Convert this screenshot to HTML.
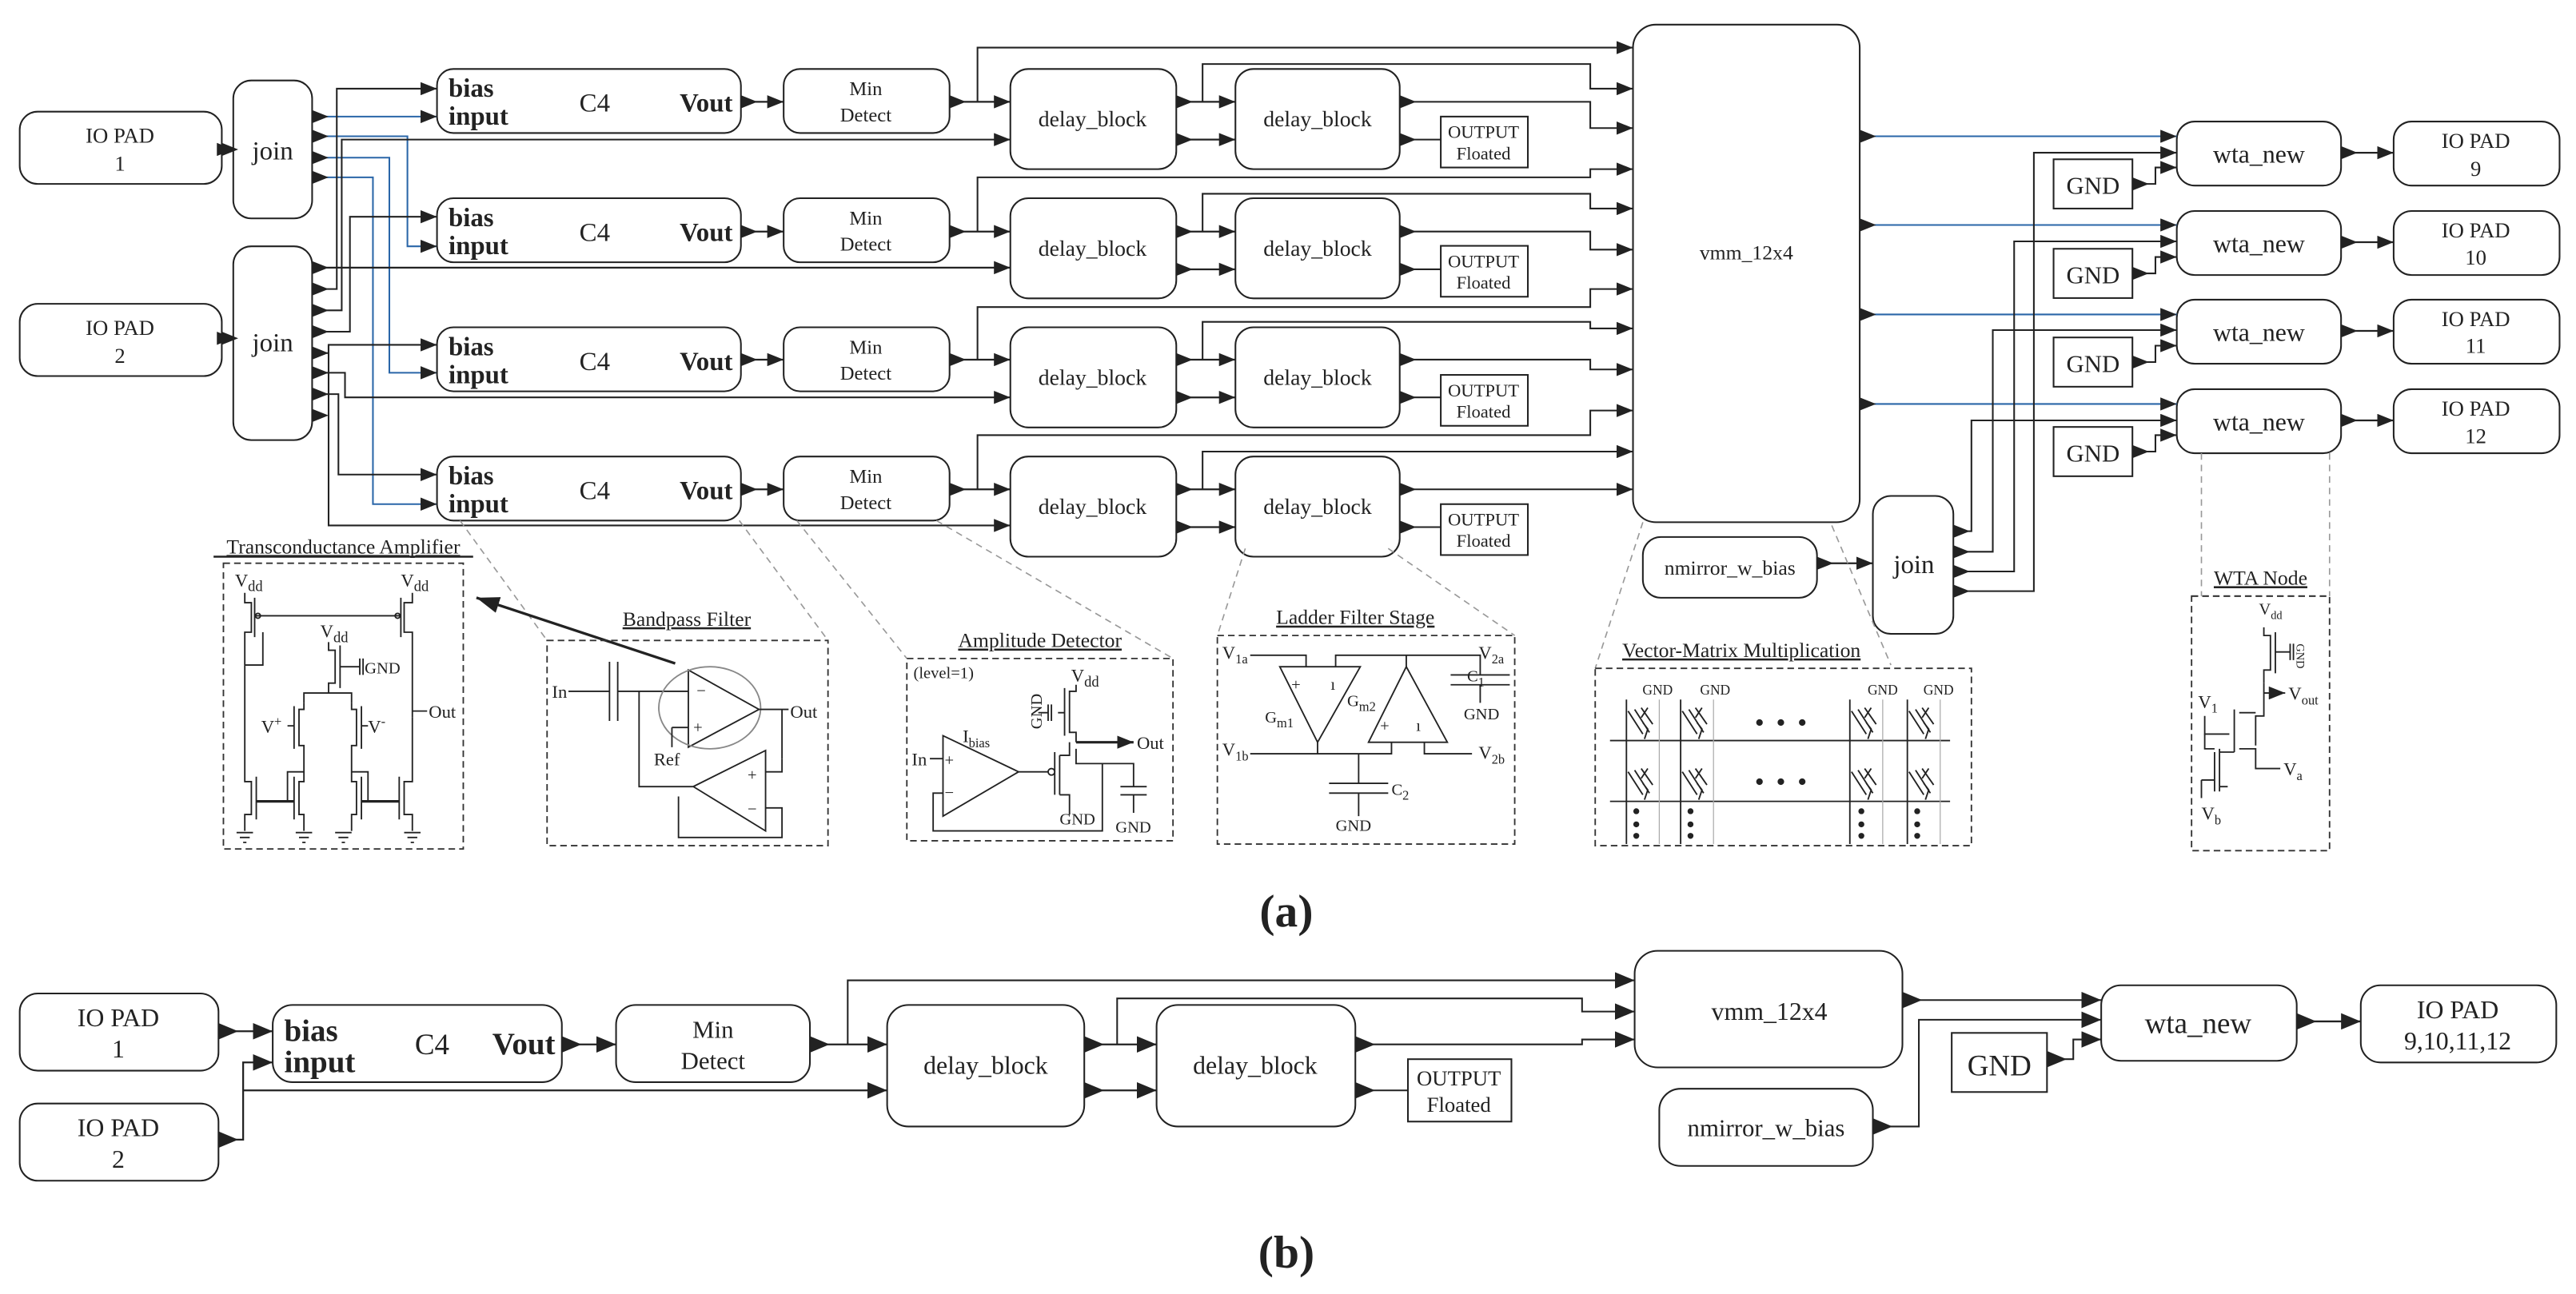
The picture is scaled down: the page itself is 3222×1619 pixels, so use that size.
<!DOCTYPE html>
<html><head><meta charset="utf-8"><style>
html,body{margin:0;padding:0;background:#fff;}
svg{display:block;}
text{font-family:"Liberation Serif",serif;fill:#222;}
.b{fill:none;stroke:#222;stroke-width:1;}
.w{fill:none;stroke:#222;stroke-width:1.1;}
.bl{fill:none;stroke:#2a66a8;stroke-width:1;}
.d{fill:none;stroke:#999;stroke-width:0.8;stroke-dasharray:4,3;}
.db{fill:none;stroke:#333;stroke-width:0.9;stroke-dasharray:4,2.5;}
.c{fill:none;stroke:#222;stroke-width:0.9;}
.g{fill:none;stroke:#aaa;stroke-width:0.6;}
</style></head><body>
<svg width="3222" height="1619" viewBox="0 0 1568 788" preserveAspectRatio="none" xmlns="http://www.w3.org/2000/svg">
<defs>
<marker id="a" markerUnits="userSpaceOnUse" markerWidth="10" markerHeight="8" refX="10" refY="4" orient="auto"><path d="M0,0L10,4L0,8z" fill="#222"/></marker>
<marker id="s" markerUnits="userSpaceOnUse" markerWidth="10" markerHeight="8" refX="0" refY="4" orient="auto"><path d="M0,0L10,4L0,8z" fill="#222"/></marker>
<marker id="A" markerUnits="userSpaceOnUse" markerWidth="12" markerHeight="10" refX="12" refY="5" orient="auto"><path d="M0,0L12,5L0,10z" fill="#222"/></marker>
<marker id="S" markerUnits="userSpaceOnUse" markerWidth="12" markerHeight="10" refX="0" refY="5" orient="auto"><path d="M0,0L12,5L0,10z" fill="#222"/></marker>
<marker id="k" markerUnits="userSpaceOnUse" markerWidth="14" markerHeight="10" refX="14" refY="5" orient="auto"><path d="M0,0L14,5L0,10z" fill="#222"/></marker>
</defs>

<!-- ============ PART A ============ -->
<!-- IO pads -->
<rect x="12" y="68" width="123" height="44" rx="11" class="b"/>
<text x="73" y="87" font-size="13" text-anchor="middle">IO PAD</text><text x="73" y="104" font-size="13" text-anchor="middle">1</text>
<rect x="12" y="185" width="123" height="44" rx="11" class="b"/>
<text x="73" y="204" font-size="13" text-anchor="middle">IO PAD</text><text x="73" y="221" font-size="13" text-anchor="middle">2</text>
<path d="M135,91H142" class="w" marker-start="url(#s)" marker-end="url(#a)"/>
<path d="M135,206H142" class="w" marker-start="url(#s)" marker-end="url(#a)"/>
<!-- joins -->
<rect x="142" y="49" width="48" height="84" rx="11" class="b"/>
<text x="166" y="97" font-size="16" text-anchor="middle">join</text>
<rect x="142" y="150" width="48" height="118" rx="11" class="b"/>
<text x="166" y="214" font-size="16" text-anchor="middle">join</text>

<!-- join1 output markers and blue lines -->
<g marker-start="url(#s)">
<path d="M190,71H266" class="bl" marker-end="url(#a)"/>
<path d="M190,83H248V150H266" class="bl" marker-end="url(#a)"/>
<path d="M190,96H237V227H266" class="bl" marker-end="url(#a)"/>
<path d="M190,108H227V307H266" class="bl" marker-end="url(#a)"/>
</g>
<!-- join2 outputs -->
<g marker-start="url(#s)">
<path d="M190,163H615" class="w" marker-end="url(#a)"/>
<path d="M190,176H205V54H266" class="b" marker-end="url(#a)"/>
<path d="M190,189H208V85H615" class="b" marker-end="url(#a)"/>
<path d="M190,202H213V132H266" class="b" marker-end="url(#a)"/>
<path d="M190,215H200V210H266" class="b" marker-end="url(#a)"/>
<path d="M190,227H210V242H615" class="b" marker-end="url(#a)"/>
<path d="M190,240H206V289H266" class="b" marker-end="url(#a)"/>
<path d="M190,253H194" class="b"/>
</g>
<path d="M200,210V320H615" class="b" marker-end="url(#a)"/>

<!-- rows -->
<g id="row0">
<rect x="266" y="42" width="185" height="39" rx="10" class="b"/>
<text x="273" y="59" font-size="16" font-weight="bold">bias</text><text x="273" y="76" font-size="16" font-weight="bold">input</text>
<text x="362" y="68" font-size="16" text-anchor="middle">C4</text>
<text x="446" y="68" font-size="16" font-weight="bold" text-anchor="end">Vout</text>
<rect x="477" y="42" width="101" height="39" rx="10" class="b"/>
<text x="527" y="58" font-size="12" text-anchor="middle">Min</text><text x="527" y="74" font-size="12" text-anchor="middle">Detect</text>
<rect x="615" y="42" width="101" height="61" rx="11" class="b"/>
<text x="665" y="77" font-size="13.5" text-anchor="middle">delay_block</text>
<rect x="752" y="42" width="100" height="61" rx="11" class="b"/>
<text x="802" y="77" font-size="13.5" text-anchor="middle">delay_block</text>
<rect x="877" y="71" width="53" height="31" class="b"/>
<text x="903" y="84" font-size="11" text-anchor="middle">OUTPUT</text><text x="903" y="97" font-size="11" text-anchor="middle">Floated</text>
</g>
<use href="#row0" y="78.7"/>
<use href="#row0" y="157.3"/>
<use href="#row0" y="236"/>

<!-- row connections -->
<g>
<!-- row 0 ry=62 -->
<path d="M451,62H477" class="w" marker-start="url(#s)" marker-end="url(#a)"/>
<path d="M578,62H615" class="w" marker-start="url(#s)" marker-end="url(#a)"/>
<path d="M595,62V29H994" class="b" marker-end="url(#a)"/>
<path d="M716,62H752" class="w" marker-start="url(#s)" marker-end="url(#a)"/>
<path d="M716,85H752" class="w" marker-start="url(#s)" marker-end="url(#a)"/>
<path d="M732,62V39H968V54H994" class="b" marker-end="url(#a)"/>
<path d="M852,62H968V78H994" class="b" marker-start="url(#s)" marker-end="url(#a)"/>
<path d="M852,85H877" class="b" marker-start="url(#s)"/>
<!-- row 1 ry=141 -->
<path d="M451,141H477" class="w" marker-start="url(#s)" marker-end="url(#a)"/>
<path d="M578,141H615" class="w" marker-start="url(#s)" marker-end="url(#a)"/>
<path d="M595,141V108H968V103H994" class="b" marker-end="url(#a)"/>
<path d="M716,141H752" class="w" marker-start="url(#s)" marker-end="url(#a)"/>
<path d="M716,164H752" class="w" marker-start="url(#s)" marker-end="url(#a)"/>
<path d="M732,141V118H968V127H994" class="b" marker-end="url(#a)"/>
<path d="M852,141H968V152H994" class="b" marker-start="url(#s)" marker-end="url(#a)"/>
<path d="M852,164H877" class="b" marker-start="url(#s)"/>
<!-- row 2 ry=219 -->
<path d="M451,219H477" class="w" marker-start="url(#s)" marker-end="url(#a)"/>
<path d="M578,219H615" class="w" marker-start="url(#s)" marker-end="url(#a)"/>
<path d="M595,219V187H968V176H994" class="b" marker-end="url(#a)"/>
<path d="M716,219H752" class="w" marker-start="url(#s)" marker-end="url(#a)"/>
<path d="M716,242H752" class="w" marker-start="url(#s)" marker-end="url(#a)"/>
<path d="M732,219V196H968V200H994" class="b" marker-end="url(#a)"/>
<path d="M852,219H968V225H994" class="b" marker-start="url(#s)" marker-end="url(#a)"/>
<path d="M852,242H877" class="b" marker-start="url(#s)"/>
<!-- row 3 ry=298 -->
<path d="M451,298H477" class="w" marker-start="url(#s)" marker-end="url(#a)"/>
<path d="M578,298H615" class="w" marker-start="url(#s)" marker-end="url(#a)"/>
<path d="M595,298V265H968V250H994" class="b" marker-end="url(#a)"/>
<path d="M716,298H752" class="w" marker-start="url(#s)" marker-end="url(#a)"/>
<path d="M716,321H752" class="w" marker-start="url(#s)" marker-end="url(#a)"/>
<path d="M732,298V275H994" class="b" marker-end="url(#a)"/>
<path d="M852,298H994" class="b" marker-start="url(#s)" marker-end="url(#a)"/>
<path d="M852,321H877" class="b" marker-start="url(#s)"/>
</g>

<!-- vmm -->
<rect x="994" y="15" width="138" height="303" rx="14" class="b"/>
<text x="1063" y="158" font-size="12.5" text-anchor="middle">vmm_12x4</text>
<!-- nmirror + join3 -->
<rect x="1000" y="327" width="106" height="37" rx="11" class="b"/>
<text x="1053" y="350" font-size="12.5" text-anchor="middle">nmirror_w_bias</text>
<path d="M1106,343H1140" class="w" marker-start="url(#s)" marker-end="url(#a)"/>
<rect x="1140" y="302" width="49" height="84" rx="11" class="b"/>
<text x="1165" y="349" font-size="16" text-anchor="middle">join</text>

<!-- wta section -->
<g id="wrow">
<rect x="1325" y="74" width="100" height="39" rx="11" class="b"/>
<text x="1375" y="99" font-size="15.5" text-anchor="middle">wta_new</text>
<rect x="1250" y="97" width="48" height="30" class="b"/>
<text x="1274" y="118" font-size="15" text-anchor="middle">GND</text>
<path d="M1298,112H1312V102H1325" class="b" marker-start="url(#s)" marker-end="url(#a)"/>
<path d="M1425,93H1457" class="w" marker-start="url(#s)" marker-end="url(#a)"/>
<rect x="1457" y="74" width="101" height="39" rx="11" class="b"/>
<text x="1507" y="90" font-size="13" text-anchor="middle">IO PAD</text>
</g>
<use href="#wrow" y="54.5"/>
<use href="#wrow" y="108.5"/>
<use href="#wrow" y="163"/>
<text x="1507" y="107" font-size="13" text-anchor="middle">9</text>
<text x="1507" y="161" font-size="13" text-anchor="middle">10</text>
<text x="1507" y="215" font-size="13" text-anchor="middle">11</text>
<text x="1507" y="270" font-size="13" text-anchor="middle">12</text>
<g marker-start="url(#s)" marker-end="url(#a)">
<path d="M1132,83H1325" class="bl"/>
<path d="M1132,137H1325" class="bl"/>
<path d="M1132,191.5H1325" class="bl"/>
<path d="M1132,246H1325" class="bl"/>
<path d="M1189,323.5H1200V256H1325" class="b"/>
<path d="M1189,336H1213V201H1325" class="b"/>
<path d="M1189,348H1226V147H1325" class="b"/>
<path d="M1189,360H1238V93H1325" class="b"/>
</g>

<!-- leader dashed lines -->
<path d="M280,317L333,390M450,317L504,390M485,317L552,401M570,317L714,401M758,334L741,387M845,334L922,387M1000,318L971,407M1115,320L1151,405M1340,276V363M1418,276V363" class="d"/>

<!-- Transconductance Amplifier -->
<text x="209" y="337" font-size="12.5" text-anchor="middle" text-decoration="underline">Transconductance Amplifier</text>
<path d="M130,339H288" stroke="#222" stroke-width="1.2"/>
<rect x="136" y="343" width="146" height="174" class="db"/>
<g class="c">
<text x="143" y="357" font-size="11" stroke="none">V<tspan font-size="9" dy="3">dd</tspan></text>
<text x="244" y="357" font-size="11" stroke="none">V<tspan font-size="9" dy="3">dd</tspan></text>
<text x="195" y="388" font-size="11" stroke="none">V<tspan font-size="9" dy="3">dd</tspan></text>
<path d="M149,361V367H153V385H149V405M153,367V385M155,364V388"/>
<path d="M251,361V367H246V385H251V437M246,367V385M244,364V388"/>
<path d="M155,375H244"/>
<circle cx="157" cy="375" r="1.5"/><circle cx="242" cy="375" r="1.5"/>
<path d="M149,405H160V385"/>
<path d="M200,391V396H204V416H200V422M204,396V416M207,393V419M207,406H219M219,401V411M221,401V411"/>
<text x="222" y="410" font-size="10" stroke="none">GND</text>
<path d="M200,422H185V428M200,422H214V428"/>
<path d="M185,428V432H182V454H185V468M182,432V454M179,430V456"/>
<path d="M214,428V432H217V454H214V468M217,432V454M220,430V456"/>
<text x="159" y="446" font-size="11" stroke="none">V<tspan font-size="8" dy="-4">+</tspan></text>
<text x="224" y="446" font-size="11" stroke="none">V<tspan font-size="8" dy="-4">-</tspan></text>
<path d="M175,442H179M220,442H224"/>
<path d="M251,433H260"/><text x="261" y="437" font-size="11" stroke="none">Out</text>
<path d="M149,405V476H153V496H149V506M153,476V496M156,473V499"/>
<path d="M185,468V476H182V496H185V506M182,476V496M179,473V499"/>
<path d="M214,468V476H217V496H214V506M217,476V496M220,473V499"/>
<path d="M251,437V476H246V496H251V506M246,476V496M243,473V499"/>
<path d="M156,488H179M220,488H243" stroke-width="1.6"/>
<path d="M185,470H175V488M214,470H224V488"/>
<path d="M144,507H154M146,510H152M148,513H150M180,507H190M182,510H188M184,513H186M204,507H214M206,510H212M208,513H210M246,507H256M248,510H254M250,513H252"/>
</g>
<path d="M411,404L290,364" stroke="#222" stroke-width="1.6" marker-end="url(#k)"/>

<!-- Bandpass Filter -->
<text x="418" y="381" font-size="12.5" text-anchor="middle" text-decoration="underline">Bandpass Filter</text>
<rect x="333" y="390" width="171" height="125" class="db"/>
<g class="c">
<text x="336" y="425" font-size="11" stroke="none">In</text>
<path d="M346,421H371M371,403V439M376,403V439M376,421H419"/>
<path d="M419,408V455L462,432Z"/>
<ellipse cx="432" cy="431" rx="31" ry="25" stroke="#888"/>
<text x="424" y="424" font-size="10" stroke="none">−</text><text x="422" y="446" font-size="10" stroke="none">+</text>
<path d="M409,443H419M409,443V455"/>
<text x="398" y="466" font-size="11" stroke="none">Ref</text>
<path d="M462,432H476V462M476,432H480"/>
<text x="481" y="437" font-size="11" stroke="none">Out</text>
<path d="M389,421V479H422M422,479L466,457V506Z"/>
<text x="455" y="475" font-size="10" stroke="none">+</text><text x="455" y="496" font-size="10" stroke="none">−</text>
<path d="M466,470H476V462M466,492H476V510H413V485"/>
</g>

<!-- Amplitude Detector -->
<text x="633" y="394" font-size="12.5" text-anchor="middle" text-decoration="underline">Amplitude Detector</text>
<rect x="552" y="401" width="162" height="111" class="db"/>
<g class="c">
<text x="556" y="413" font-size="10" stroke="none">(level=1)</text>
<text x="652" y="415" font-size="11" stroke="none">V<tspan font-size="9" dy="3">dd</tspan></text>
<path d="M655,417V421H651V446H655V452M651,421V446M648,419V448M644,434H648M640,429V439M638,429V439M632,434H638"/>
<text x="634" y="444" font-size="10" stroke="none" transform="rotate(-90 634 444)">GND</text>
<path d="M655,452H690" stroke-width="1.5" marker-end="url(#a)"/>
<text x="692" y="456" font-size="11" stroke="none">Out</text>
<text x="586" y="452" font-size="11" stroke="none">I<tspan font-size="8" dy="3">bias</tspan></text>
<path d="M574,448V497L620,470Z"/>
<text x="575" y="466" font-size="10" stroke="none">+</text><text x="575" y="486" font-size="10" stroke="none">−</text>
<text x="555" y="466" font-size="11" stroke="none">In</text><path d="M566,462H574"/>
<path d="M620,470H638"/><circle cx="640" cy="470" r="2"/>
<path d="M642,458V484M645,460V484M645,460H651V452M645,484H651V496"/>
<text x="645" y="502" font-size="10" stroke="none">GND</text>
<path d="M655,456V465H690V479M682,479H698M682,484H698M690,484V495"/>
<text x="679" y="507" font-size="10" stroke="none">GND</text>
<path d="M574,483H568V506H671V465"/>
</g>

<!-- Ladder Filter Stage -->
<text x="825" y="380" font-size="12.5" text-anchor="middle" text-decoration="underline">Ladder Filter Stage</text>
<rect x="741" y="387" width="181" height="127" class="db"/>
<g class="c">
<text x="744" y="401" font-size="11" stroke="none">V<tspan font-size="8" dy="3">1a</tspan></text>
<path d="M761,399H795V406M779,406H828L802,452Z"/>
<text x="786" y="420" font-size="10" stroke="none">+</text><text x="810" y="420" font-size="10" stroke="none">ı</text>
<path d="M813,406V399H901V411M856,399V406"/>
<path d="M856,406L833,452H881Z"/>
<text x="840" y="445" font-size="10" stroke="none">+</text><text x="862" y="445" font-size="10" stroke="none">ı</text>
<text x="900" y="401" font-size="11" stroke="none">V<tspan font-size="8" dy="3">2a</tspan></text>
<path d="M883,411H919M883,417H919M901,417V428"/>
<text x="893" y="415" font-size="10" stroke="none">C<tspan font-size="8" dy="3">1</tspan></text>
<text x="891" y="438" font-size="10" stroke="none">GND</text>
<text x="770" y="440" font-size="10" stroke="none">G<tspan font-size="8" dy="3">m1</tspan></text>
<text x="820" y="430" font-size="10" stroke="none">G<tspan font-size="8" dy="3">m2</tspan></text>
<text x="744" y="460" font-size="11" stroke="none">V<tspan font-size="8" dy="3">1b</tspan></text>
<path d="M761,459H847V452M802,452V459M867,452V459H896M827,459V477M809,477H845M809,483H845M827,483V497"/>
<text x="900" y="462" font-size="11" stroke="none">V<tspan font-size="8" dy="3">2b</tspan></text>
<text x="847" y="484" font-size="10" stroke="none">C<tspan font-size="8" dy="3">2</tspan></text>
<text x="813" y="506" font-size="10" stroke="none">GND</text>
</g>

<!-- Vector-Matrix Multiplication -->
<text x="1060" y="400" font-size="12.5" text-anchor="middle" text-decoration="underline">Vector-Matrix Multiplication</text>
<rect x="971" y="407" width="229" height="108" class="db"/>
<g class="c">
<path d="M980,451H1187M980,488H1187"/>
<path d="M990,426V514M1023,426V514M1126,426V514M1161,426V514"/>
<path d="M1010,426V514M1043,426V514M1146,426V514M1181,426V514" class="g"/>
<g font-size="8.5" stroke="none" text-anchor="middle"><text x="1009" y="423">GND</text><text x="1044" y="423">GND</text><text x="1146" y="423">GND</text><text x="1180" y="423">GND</text></g>
<g id="tr"><path d="M991,433L1000,447M995,432L1004,446M999,431L1006,441M1003,431L999,437M1000,440L1003,444L1001,450"/></g>
<use href="#tr" x="33"/><use href="#tr" x="136"/><use href="#tr" x="171"/>
<use href="#tr" y="37"/><use href="#tr" x="33" y="37"/><use href="#tr" x="136" y="37"/><use href="#tr" x="171" y="37"/>
</g>
<g fill="#222">
<circle cx="1071" cy="440" r="2"/><circle cx="1084" cy="440" r="2"/><circle cx="1097" cy="440" r="2"/>
<circle cx="1071" cy="476" r="2"/><circle cx="1084" cy="476" r="2"/><circle cx="1097" cy="476" r="2"/>
<circle cx="996" cy="494" r="1.8"/><circle cx="996" cy="502" r="1.8"/><circle cx="996" cy="509" r="1.8"/>
<circle cx="1029" cy="494" r="1.8"/><circle cx="1029" cy="502" r="1.8"/><circle cx="1029" cy="509" r="1.8"/>
<circle cx="1133" cy="494" r="1.8"/><circle cx="1133" cy="502" r="1.8"/><circle cx="1133" cy="509" r="1.8"/>
<circle cx="1167" cy="494" r="1.8"/><circle cx="1167" cy="502" r="1.8"/><circle cx="1167" cy="509" r="1.8"/>
</g>

<!-- WTA Node -->
<text x="1376" y="356" font-size="12.5" text-anchor="middle" text-decoration="underline">WTA Node</text>
<path d="M1334,363H1418" class="db"/>
<rect x="1334" y="363" width="84" height="155" class="db"/>
<g class="c">
<text x="1375" y="374" font-size="10" stroke="none">V<tspan font-size="7" dy="3">dd</tspan></text>
<path d="M1378,382V387H1382V408H1378V416M1382,387V408M1385,385V410M1385,397H1394M1394,392V402M1396,392V402"/>
<text x="1398" y="392" font-size="7" stroke="none" transform="rotate(90 1398 392)">GND</text>
<path d="M1378,416V436H1373V454M1378,422H1391" marker-end="url(#a)"/>
<text x="1393" y="426" font-size="11" stroke="none">V<tspan font-size="8" dy="3">out</tspan></text>
<text x="1338" y="431" font-size="11" stroke="none">V<tspan font-size="8" dy="3">1</tspan></text>
<path d="M1342,436V447H1357M1360,432V458M1363,434H1373M1363,456H1373V468H1388"/>
<path d="M1342,447V456H1348M1348,458V482M1351,456V482M1351,458H1360M1351,479H1356"/>
<text x="1390" y="472" font-size="11" stroke="none">V<tspan font-size="8" dy="3">a</tspan></text>
<path d="M1340,475V486M1340,475H1348"/>
<text x="1340" y="499" font-size="11" stroke="none">V<tspan font-size="8" dy="3">b</tspan></text>
</g>

<text x="783" y="564" font-size="28" font-weight="bold" text-anchor="middle">(a)</text>

<!-- ============ PART B ============ -->
<rect x="12" y="605" width="121" height="47" rx="11" class="b"/>
<text x="72" y="625" font-size="15.5" text-anchor="middle">IO PAD</text><text x="72" y="644" font-size="15.5" text-anchor="middle">1</text>
<rect x="12" y="672" width="121" height="47" rx="11" class="b"/>
<text x="72" y="692" font-size="15.5" text-anchor="middle">IO PAD</text><text x="72" y="711" font-size="15.5" text-anchor="middle">2</text>
<path d="M133,628H166" class="w" marker-start="url(#S)" marker-end="url(#A)"/>
<path d="M133,694H148V647H166" class="w" marker-start="url(#S)" marker-end="url(#A)"/>
<path d="M148,664H540" class="w" marker-end="url(#A)"/>

<rect x="166" y="612" width="176" height="47" rx="12" class="b"/>
<text x="173" y="634" font-size="19" font-weight="bold">bias</text><text x="173" y="653" font-size="19" font-weight="bold">input</text>
<text x="263" y="642" font-size="18" text-anchor="middle">C4</text>
<text x="338" y="642" font-size="19" font-weight="bold" text-anchor="end">Vout</text>
<path d="M342,636H375" class="w" marker-start="url(#S)" marker-end="url(#A)"/>
<rect x="375" y="612" width="118" height="47" rx="12" class="b"/>
<text x="434" y="632" font-size="15" text-anchor="middle">Min</text><text x="434" y="651" font-size="15" text-anchor="middle">Detect</text>
<path d="M493,636H540" class="w" marker-start="url(#S)" marker-end="url(#A)"/>
<path d="M516,636V597H995" class="b" marker-end="url(#A)"/>
<rect x="540" y="612" width="120" height="74" rx="13" class="b"/>
<text x="600" y="654" font-size="15.5" text-anchor="middle">delay_block</text>
<path d="M660,636H704" class="w" marker-start="url(#S)" marker-end="url(#A)"/>
<path d="M660,664H704" class="w" marker-start="url(#S)" marker-end="url(#A)"/>
<path d="M680,636V608H963V616H995" class="b" marker-end="url(#A)"/>
<rect x="704" y="612" width="121" height="74" rx="13" class="b"/>
<text x="764" y="654" font-size="15.5" text-anchor="middle">delay_block</text>
<path d="M825,636H963V633H995" class="b" marker-start="url(#S)" marker-end="url(#A)"/>
<path d="M825,664H857" class="b" marker-start="url(#S)"/>
<rect x="857" y="645" width="63" height="38" class="b"/>
<text x="888" y="661" font-size="13" text-anchor="middle">OUTPUT</text><text x="888" y="677" font-size="13" text-anchor="middle">Floated</text>

<rect x="995" y="579" width="163" height="71" rx="14" class="b"/>
<text x="1077" y="621" font-size="15.5" text-anchor="middle">vmm_12x4</text>
<rect x="1010" y="663" width="130" height="47" rx="13" class="b"/>
<text x="1075" y="692" font-size="15" text-anchor="middle">nmirror_w_bias</text>
<path d="M1140,686H1168V621H1279" class="b" marker-start="url(#S)" marker-end="url(#A)"/>
<path d="M1158,609H1279" class="b" marker-start="url(#S)" marker-end="url(#A)"/>
<rect x="1188" y="629" width="58" height="36" class="b"/>
<text x="1217" y="655" font-size="18" text-anchor="middle">GND</text>
<path d="M1246,645H1262V633H1279" class="b" marker-start="url(#S)" marker-end="url(#A)"/>
<rect x="1279" y="600" width="119" height="46" rx="12" class="b"/>
<text x="1338" y="629" font-size="18" text-anchor="middle">wta_new</text>
<path d="M1398,622H1437" class="w" marker-start="url(#S)" marker-end="url(#A)"/>
<rect x="1437" y="600" width="119" height="47" rx="12" class="b"/>
<text x="1496" y="620" font-size="15.5" text-anchor="middle">IO PAD</text><text x="1496" y="639" font-size="15.5" text-anchor="middle">9,10,11,12</text>

<text x="783" y="772" font-size="28" font-weight="bold" text-anchor="middle">(b)</text>
</svg>
</body></html>
